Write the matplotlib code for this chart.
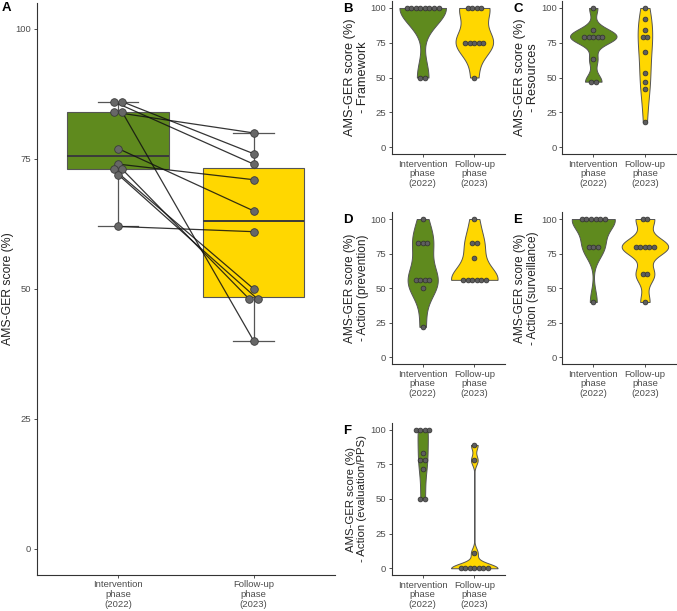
import numpy as np
import matplotlib.pyplot as plt

plt.rcParams['font.family'] = ['Liberation Sans', 'DejaVu Sans']

phases = ['Intervention\nphase\n(2022)', 'Follow-up\nphase\n(2023)']
green = '#5f8a1e'
gold = '#ffd700'

# panel A: overall score per hospital, paired by index
total_2022 = [86, 86, 84, 84, 77, 74, 73, 73, 72, 62]
total_2023 = [74, 76, 80, 40, 65, 71, 50, 48, 48, 61]

# panels B-F: sub-scores
framework_2022 = [100, 100, 100, 100, 100, 100, 100, 100, 50, 50]
framework_2023 = [100, 100, 100, 100, 75, 75, 75, 75, 75, 50]
resources_2022 = [100, 84, 79, 79, 79, 79, 79, 63, 47, 47]
resources_2023 = [100, 92, 84, 79, 79, 68, 53, 47, 42, 18]
prevention_2022 = [100, 83, 83, 83, 56, 56, 56, 56, 50, 22]
prevention_2023 = [100, 83, 83, 72, 56, 56, 56, 56, 56, 56]
surveillance_2022 = [100, 100, 100, 100, 100, 100, 80, 80, 80, 40]
surveillance_2023 = [100, 100, 80, 80, 80, 80, 80, 60, 60, 40]
evaluation_2022 = [100, 100, 100, 100, 83, 78, 78, 72, 50, 50]
evaluation_2023 = [89, 78, 11, 0, 0, 0, 0, 0, 0, 0]

panels = [
    ('B', 'AMS-GER score (%)\n- Framework', framework_2022, framework_2023),
    ('C', 'AMS-GER score (%)\n- Resources', resources_2022, resources_2023),
    ('D', 'AMS-GER score (%)\n- Action (prevention)', prevention_2022, prevention_2023),
    ('E', 'AMS-GER score (%)\n- Action (surveillance)', surveillance_2022, surveillance_2023),
    ('F', 'AMS-GER score (%)\n- Action (evaluation/PPS)', evaluation_2022, evaluation_2023),
]


def nrd0(x):
    x = np.asarray(x, float)
    hi = x.std(ddof=1)
    q75, q25 = np.percentile(x, [75, 25])
    lo = min(hi, (q75 - q25) / 1.34)
    if lo == 0:
        lo = hi or abs(x[0]) or 1.0
    return 0.9 * lo * len(x) ** -0.2


def kde(x):
    x = np.asarray(x, float)
    bw = nrd0(x)
    grid = np.linspace(x.min(), x.max(), 512)
    z = (grid[:, None] - x[None, :]) / bw
    d = np.exp(-0.5 * z ** 2).sum(1) / (len(x) * bw * np.sqrt(2 * np.pi))
    return grid, d


def stack_offsets(values, step):
    values = np.asarray(values, float)
    off = np.zeros(len(values))
    for v in np.unique(values):
        idx = np.where(values == v)[0]
        k = len(idx)
        off[idx] = (np.arange(k) - (k - 1) / 2) * step
    return off


def style(ax):
    ax.spines[['top', 'right']].set_visible(False)
    for s in ['left', 'bottom']:
        ax.spines[s].set_color('#333333')
        ax.spines[s].set_linewidth(0.8)
    ax.set_xlim(0.4, 2.6)
    ax.set_ylim(-5, 105)
    ax.set_yticks([0, 25, 50, 75, 100])
    ax.set_xticks([1, 2])
    ax.set_xticklabels(phases, linespacing=1.1)
    ax.tick_params(colors='#333333', labelcolor='#4d4d4d', labelsize=6.8,
                   length=2.5, width=0.6, pad=1.5)


W, H = 677, 611
fig = plt.figure(figsize=(W / 100, H / 100), dpi=100)


def box(left, top, right, bottom):
    return [left / W, (H - bottom) / H, (right - left) / W, (bottom - top) / H]


# ---- panel A ----
axA = fig.add_axes(box(36.7, 3, 335, 574.7))
bp = axA.boxplot([total_2022, total_2023], positions=[1, 2], widths=0.75,
                 patch_artist=True, showfliers=False, capwidths=0.3,
                 medianprops=dict(color='#3a3a3a', linewidth=1.4),
                 boxprops=dict(edgecolor='#555555', linewidth=0.8),
                 whiskerprops=dict(color='#555555', linewidth=0.9),
                 capprops=dict(color='#555555', linewidth=0.9))
for patch, c in zip(bp['boxes'], [green, gold]):
    patch.set_facecolor(c)
style(axA)

offA1 = stack_offsets(total_2022, 0.062)
offA2 = stack_offsets(total_2023, 0.062)
for i in range(len(total_2022)):
    axA.plot([1 + offA1[i], 2 + offA2[i]], [total_2022[i], total_2023[i]],
             color='#111111', lw=0.9, alpha=0.85, zorder=3)
axA.scatter(1 + offA1, total_2022, s=30, color='#676767', edgecolor='#3a3a3a',
            linewidth=0.6, zorder=4)
axA.scatter(2 + offA2, total_2023, s=30, color='#676767', edgecolor='#3a3a3a',
            linewidth=0.6, zorder=4)
fig.text(8 / W, 1 - 289 / H, 'AMS-GER score (%)', rotation=90, ha='center',
         va='center', fontsize=8.8, color='#222222')
fig.text(2 / W, 1 - 8 / H, 'A', fontsize=9.5, fontweight='bold', va='center')

# ---- panels B-F ----
boxes = {
    'B': (391.7, 1, 505.3, 154),
    'C': (562.3, 1, 675.9, 154),
    'D': (391.7, 212.1, 505.3, 364.2),
    'E': (562.3, 212.1, 675.9, 364.2),
    'F': (391.7, 422.8, 505.3, 575.2),
}
label_size = {'B': 9.2, 'C': 9.2, 'D': 8.6, 'E': 8.6, 'F': 8.2}

for letter, label, v1, v2 in panels:
    l, t, r, b = boxes[letter]
    ax = fig.add_axes(box(l, t, r, b))
    style(ax)
    dens = [kde(v1), kde(v2)]
    dmax = max(d.max() for _, d in dens)
    for pos, (grid, d), c in zip([1, 2], dens, [green, gold]):
        half = 0.45 * d / dmax
        ax.fill_betweenx(grid, pos - half, pos + half, facecolor=c,
                         edgecolor='#555555', linewidth=0.7, zorder=2)
    for pos, v in zip([1, 2], [v1, v2]):
        off = stack_offsets(v, 0.088)
        ax.scatter(pos + off, v, s=12, color='#5e5e5e', edgecolor='#2f2f2f',
                   linewidth=0.5, zorder=3)
    lx = l - 35 if letter in 'BDF' else l - 36
    fig.text(lx / W, 1 - (t + b) / 2 / H, label, rotation=90, ha='center',
             va='center', fontsize=label_size[letter], color='#222222',
             linespacing=1.1, multialignment='center')
    fig.text((l - 49) / W, 1 - (t + 8) / H, letter, fontsize=9.5,
             fontweight='bold', va='center')

fig.savefig('out.png', dpi=100)
